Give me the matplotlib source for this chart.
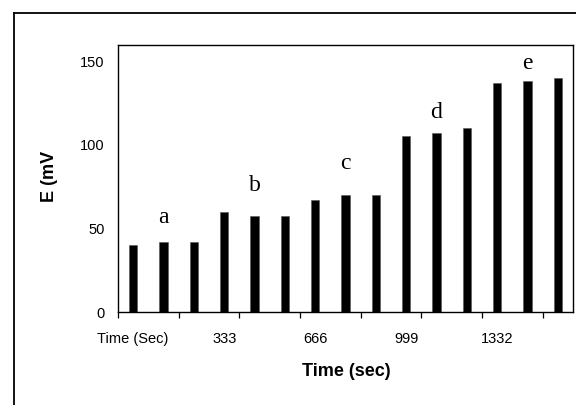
import matplotlib
matplotlib.use("Agg")
import matplotlib.pyplot as plt
from matplotlib.lines import Line2D

# Data
categories = list(range(15))
values = [40, 42, 42, 60, 57.5, 57.5, 67, 70, 70, 105, 107, 110, 137, 138, 140]
group_letters = ["a", "b", "c", "d", "e"]
letter_positions = [1, 4, 7, 10, 13]
letter_heights = [56.6, 75.5, 89.0, 119.6, 148.8]
tick_label_positions = [0, 3, 6, 9, 12]
tick_labels = ["Time (Sec)", "333", "666", "999", "1332"]
y_ticks = [0, 50, 100, 150]

W, H = 576, 405
fig = plt.figure(figsize=(W / 100, H / 100), dpi=100)
plt.rcParams['font.family'] = ['Liberation Sans', 'DejaVu Sans']

# axes in pixel coordinates
left, right, top, bottom = 118, 573, 44.5, 312
ax = fig.add_axes([left / W, 1 - bottom / H, (right - left) / W, (bottom - top) / H])

ax.bar(categories, values, width=0.27, color='black', edgecolor='#555555', linewidth=0.4)

ax.set_xlim(-0.5, 14.5)
ax.set_ylim(0, 160)
ax.set_yticks(y_ticks)
ax.set_yticklabels([str(v) for v in y_ticks])
ax.tick_params(axis='y', length=0, pad=9.5, labelsize=10.5)

ax.set_xticks(tick_label_positions)
ax.set_xticklabels(tick_labels)
ax.tick_params(axis='x', which='major', length=0, pad=14.5, labelsize=10.5)
ax.set_xticks([b - 0.5 for b in range(0, 15, 2)], minor=True)
ax.tick_params(axis='x', which='minor', length=4.3, width=0.9, direction='out')

for s in ax.spines.values():
    s.set_linewidth(1.0)
    s.set_color('black')

for lt, xp, yp in zip(group_letters, letter_positions, letter_heights):
    ax.text(xp, yp, lt, ha='center', va='center', fontsize=17,
            family=['Liberation Serif', 'DejaVu Serif'])

fig.text(346 / W, 1 - 371 / H, "Time (sec)", ha='center', va='center',
         fontsize=13, fontweight='bold')
fig.text(50 / W, 1 - 176 / H, "E (mV", ha='center', va='center',
         fontsize=13, fontweight='bold', rotation=90)

# outer frame (left and top edges visible, others run off canvas)
fig.add_artist(Line2D([14 / W, 14 / W], [0, 1 - 12.5 / H], transform=fig.transFigure,
                      color='black', linewidth=1.3))
fig.add_artist(Line2D([14 / W, 1], [1 - 12.5 / H, 1 - 12.5 / H], transform=fig.transFigure,
                      color='black', linewidth=1.3))

fig.savefig("out.png", dpi=100)
